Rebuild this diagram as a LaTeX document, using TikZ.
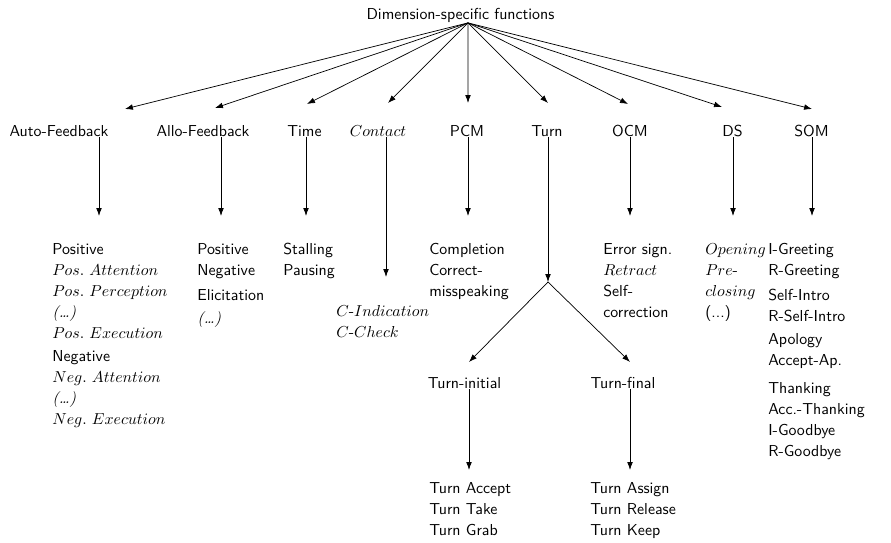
\documentclass[tikz,border=0pt]{standalone}
\usetikzlibrary{arrows.meta}
\tikzset{
  dimsec/.style={x=0.63pt,y=-0.63pt,font=\sffamily},
  dim/.style={anchor=base,inner sep=0pt},
  leaf/.style={anchor=north west,inner sep=0pt,align=left,font=\sffamily\fontsize{10}{13.2}\selectfont},
  arr/.style={-{Latex[length=5pt,width=3.6pt]},line width=0.45pt},
}
\newcommand{\etcit}{{\rmfamily\itshape(\ldots)}}

\begin{document}
\begin{tikzpicture}[dimsec]
    \useasboundingbox (0,0) rectangle (891,543);
    \node[dim] (root) at (460.5,19.5) {Dimension-specific functions};
    % the nine dimensions
    \node[dim] (auto) at (59,136.5) {Auto-Feedback};
    \node[dim] (allo) at (203,136.5) {Allo-Feedback};
    \node[dim] (time) at (304.5,136.5) {Time};
    \node[dim] (contact) at (378,136.5) {$Contact$};
    \node[dim] (pcm) at (467,136.5) {PCM};
    \node[dim] (turn) at (547,136.5) {Turn};
    \node[dim] (ocm) at (630,136.5) {OCM};
    \node[dim] (ds) at (732.5,136.5) {DS};
    \node[dim] (som) at (811.5,136.5) {SOM};
    \foreach \nm/\x/\y in {auto/125/109,allo/215/108,time/307/104,contact/388/103,pcm/468/103,turn/548/103,ocm/628/104,ds/722/107,som/812/109} {
      \coordinate (tip\nm) at (\x,\y);
      \draw[arr] ([xshift=4.7pt]root.south) -- (tip\nm);
    }
    \foreach \nm/\x/\y in {auto/99/216,allo/221/216,time/306/216,contact/386/277,pcm/468/216,turn/548/282,ocm/630/216,ds/733/216,som/812/216} {
      \coordinate (end\nm) at (\x,\y);
      \draw[arr] (\nm.south -| end\nm) -- (end\nm);
    }
    % functions
    \node[leaf] (autoList) at (52,243) {Positive\\ $Pos.\ Attention$\\ $Pos.\ Perception$\\ \etcit\\ $Pos.\ Execution$\\[1.3pt] Negative\\ $Neg.\ Attention$\\ \etcit\\ $Neg.\ Execution$};
    \node[leaf] (alloList) at (197,243) {Positive\\ Negative\\[2.5pt] Elicitation\\[1.3pt] \etcit};
    \node[leaf] (timeList) at (283,243) {Stalling\\ Pausing};
    \node[leaf] (contactList) at (336,305) {$C\mbox{-}Indication$\\ $C\mbox{-}Check$};
    \node[leaf] (pcmList) at (429,243) {Completion\\ Correct-\\ misspeaking};
    \node[leaf] (ocmList) at (603,243) {Error sign.\\ $Retract$\\ Self-\\ correction};
    \node[leaf] (dsList) at (705,243) {$Opening$\\ $Pre$-\\ $closing$\\ (...)};
    \node[leaf] (somList) at (768,243) {I-Greeting\\ R-Greeting\\[2.5pt] Self-Intro\\ R-Self-Intro\\[1.3pt] Apology\\ Accept-Ap.\\[4.4pt] Thanking\\ Acc.-Thanking\\ I-Goodbye\\ R-Goodbye};
    % turn split
    \node[dim] (turnIni) at (464.5,388.5) {Turn-initial};
    \node[dim] (turnFin) at (623,388.5) {Turn-final};
    \coordinate (tipIni) at (469,362);
    \coordinate (tipFin) at (630,362);
    \draw[arr] (endturn) -- (tipIni);
    \draw[arr] (endturn) -- (tipFin);
    \coordinate (endIni) at (469,470);
    \coordinate (endFin) at (630,470);
    \draw[arr] (turnIni.south -| endIni) -- (endIni);
    \draw[arr] (turnFin.south -| endFin) -- (endFin);
    \node[leaf] (iniList) at (429,482) {Turn Accept\\ Turn Take\\ Turn Grab};
    \node[leaf] (finList) at (590,482) {Turn Assign\\ Turn Release\\ Turn Keep};
\end{tikzpicture}
\end{document}
